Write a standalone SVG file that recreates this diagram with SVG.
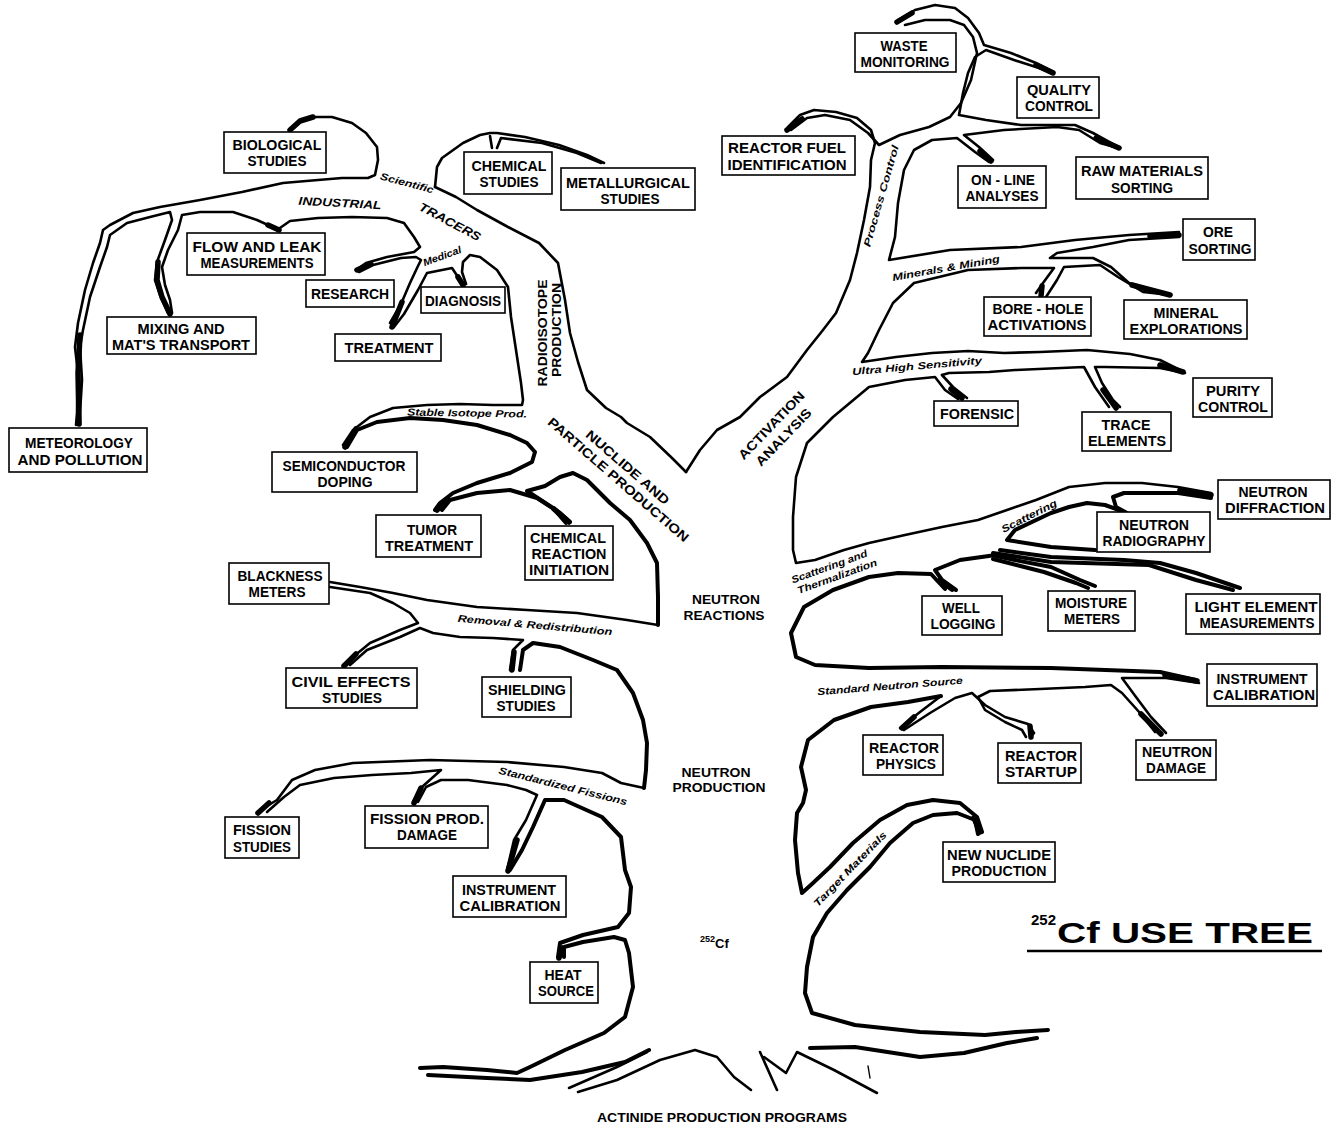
<svg xmlns="http://www.w3.org/2000/svg" width="1338" height="1125" viewBox="0 0 1338 1125">
<style>
.c{fill:none;stroke:#000;stroke-width:2.6;stroke-linejoin:round;stroke-linecap:round}
.k{fill:none;stroke:#000;stroke-width:4;stroke-linejoin:round;stroke-linecap:round}
.t{fill:none;stroke:#000;stroke-width:5.5;stroke-linejoin:round;stroke-linecap:round}
.n rect{fill:#fff;stroke:#000;stroke-width:1.6}
.n text{font-family:"Liberation Sans",Arial,sans-serif;font-weight:bold;font-size:14.5px;text-anchor:middle;fill:#000}
.b{font-family:"Liberation Sans",Arial,sans-serif;font-weight:bold;font-style:italic;font-size:10px;text-anchor:middle;fill:#000}
.cap{font-family:"Liberation Sans",Arial,sans-serif;font-weight:bold;font-size:13px;text-anchor:middle;fill:#000}
</style>
<rect width="1338" height="1125" fill="#fff"/>
<g id="connectors">
<path class="c" d="M76,425 L77,413 L78,373 L75,347 L78,323 L85,290 L93,263 L100,243 L103,230 L110,225 L133,213 L160,207 L200,200 L242,192 L283,183 L318,180 L342,178 L368,178 L375,175 L378,160 L377,147 L366,133 L352,123 L332,117 L311,117 L297,123 L290,129"/>
<path class="c" d="M80,425 L80,413 L82,380 L80,347 L83,330 L90,297 L100,267 L107,247 L110,235 L127,223 L150,217 L170,212 L172,220 L165,240 L157,262 L155,280 L160,295 L168,313"/>
<path class="c" d="M172,313 L170,300 L165,285 L162,267 L168,250 L178,230 L182,215 L200,212 L233,212 L257,220 L279,230"/>
<path class="c" d="M277,230 L290,221 L318,218 L352,217 L387,218 L404,223 L414,237 L420,247 L414,252 L387,257 L366,263 L356,270"/>
<path class="c" d="M359,272 L373,265 L401,258 L416,257 L421,260 L418,266 L410,283 L401,304 L390,323"/>
<path class="c" d="M394,327 L404,314 L418,290 L427,273 L442,270 L452,268 L456,274 L461,283"/>
<path class="c" d="M466,284 L462,272 L463,262 L470,255 L480,257 L497,270 L508,287 L511,317 L516,350 L521,383 L523,400 L522,405 L493,405 L460,404 L427,405 L393,408 L370,417 L353,430 L343,445"/>
<path class="c" d="M435,187 L437,167 L442,158 L463,143 L480,135 L490,133 L497,133 L525,137 L559,145 L587,155 L604,163"/>
<path class="c" d="M601,163 L577,153 L542,143 L501,138 L497,148"/>
<path class="c" d="M490,136 L492,148"/>
<path class="c" d="M435,187 L456,197 L477,210 L508,227 L539,243 L558,263 L565,300 L570,333 L578,362 L587,390 L606,408 L621,417 L627,423 L650,437 L672,458 L686,472"/>
<path class="k" d="M347,447 L357,430 L377,422 L410,418 L443,420 L477,425 L510,435 L527,443 L535,452 L532,462 L510,473 L477,483 L453,493 L440,503 L435,510"/>
<path class="k" d="M442,510 L450,500 L477,493 L510,490 L537,498 L560,513 L570,522"/>
<path class="k" d="M566,523 L553,508 L527,491 L545,486 L560,477 L573,473 L587,480 L610,503 L630,520 L647,543 L657,563 L658,597 L658,625"/>
<path class="c" d="M658,625 L627,620 L577,613 L527,610 L477,607 L427,600 L393,593 L360,587 L330,582"/>
<path class="c" d="M330,587 L370,593 L393,603 L410,613 L418,623 L400,630 L370,643 L353,657 L343,665"/>
<path class="c" d="M350,665 L367,650 L400,637 L420,628 L433,633 L460,637 L493,638 L523,640 L513,650 L510,670"/>
<path class="k" d="M520,670 L523,650 L533,643 L560,647 L593,660 L617,670 L633,693 L643,720 L647,743 L646,770 L644,788"/>
<path class="c" d="M644,788 L621,783 L602,773 L564,767 L507,762 L430,760 L353,763 L315,770 L292,780 L277,800 L257,812"/>
<path class="c" d="M267,812 L284,797 L300,785 L334,778 L372,775 L411,773 L441,770 L422,787 L413,802"/>
<path class="c" d="M418,802 L426,787 L441,780 L468,780 L507,785 L526,790 L537,795 L526,820 L514,840 L507,870"/>
<path class="k" d="M510,870 L522,850 L533,827 L545,800 L564,800 L602,817 L621,837 L625,870 L631,887 L629,913 L618,927 L583,935 L560,943 L558,957"/>
<path class="k" d="M564,957 L564,947 L583,942 L614,937 L625,940 L629,953 L633,987 L625,1017 L604,1033 L565,1050 L530,1067 L517,1073 L487,1070 L443,1067 L420,1068"/>
<path class="k" d="M428,1075 L487,1078 L530,1080 L582,1072 L625,1062 L649,1050"/>
<path class="c" d="M647,1052 L617,1067 L569,1088"/>
<path class="c" d="M578,1092 L617,1080 L660,1060 L695,1050 L717,1057 L734,1077 L751,1090"/>
<path class="c" d="M760,1052 L777,1090"/>
<path class="c" d="M764,1057 L786,1073 L797,1052 L834,1070 L877,1093"/>
<path class="k" d="M810,1048 L855,1047 L920,1057 L964,1053 L1007,1043 L1037,1038"/>
<path class="c" d="M868,1066 L870,1078" style="stroke-width:1.4"/>
<path class="k" d="M978,834 L975,820 L957,813 L933,815 L913,823 L890,843 L870,867 L847,890 L827,913 L813,937 L807,967 L805,993 L812,1013 L855,1025 L920,1032 L985,1035 L1016,1032 L1048,1030"/>
<path class="k" d="M941,696 L908,702 L871,707 L834,720 L808,740 L801,767 L806,790 L803,803 L797,813 L795,840 L798,873 L802,893 L813,883 L830,867 L853,843 L880,820 L907,805 L933,800 L960,803 L977,817 L982,832"/>
<path class="c" d="M941,696 L920,712 L900,728"/>
<path class="c" d="M904,730 L930,713 L955,698 L972,693 L985,705 L1005,717 L1028,724 L1034,733 L1030,738"/>
<path class="c" d="M1026,737 L1022,730 L1005,722 L985,710 L978,697 L990,691 L1040,689 L1085,687 L1111,685 L1122,693 L1140,713 L1155,732"/>
<path class="c" d="M1166,733 L1151,717 L1136,697 L1122,678 L1166,678 L1199,683"/>
<path class="k" d="M945,589 L931,574 L898,573 L869,577 L833,590 L804,607 L791,633 L796,657 L815,665 L869,668 L942,667 L1051,668 L1160,672 L1196,680"/>
<path class="k" d="M996,555 L960,560 L935,570 L942,580 L956,590"/>
<path class="k" d="M996,556 L1015,560 L1051,567 L1080,580 L1095,586"/>
<path class="k" d="M993,559 L1044,572 L1076,583 L1088,588"/>
<path class="k" d="M1000,550 L1051,557 L1124,560 L1160,563 L1196,573 L1240,588"/>
<path class="k" d="M993,553 L1051,562 L1149,565 L1196,580 L1233,590"/>
<path class="k" d="M1211,498 L1178,493 L1124,493 L1113,497 L1116,507 L1127,513 L1105,505 L1087,503 L1069,507 L1051,513 L1015,530 L1007,540 L1051,547 L1095,550"/>
<path class="c" d="M958,399 L945,390 L935,377 L905,380 L869,387 L833,417 L807,443 L796,477 L793,517 L793,550 L796,563 L815,560 L844,550 L869,543 L905,535 L942,527 L978,520 L1007,510 L1036,500 L1069,487 L1105,483 L1142,483 L1178,487 L1211,493"/>
<path class="c" d="M942,375 L953,387 L967,398"/>
<path class="c" d="M942,375 L949,373 L989,372 L1015,370 L1084,367 L1095,387 L1109,407"/>
<path class="c" d="M1120,407 L1113,400 L1102,383 L1095,367 L1105,367 L1160,368 L1185,373"/>
<path class="c" d="M1182,371 L1160,360 L1130,354 L1087,350 L1040,352 L1004,353 L968,351 L932,353 L896,357 L862,362 L868,353 L879,330 L893,303 L914,283 L968,270 L1021,268 L1054,268 L1043,283 L1036,293"/>
<path class="c" d="M1046,297 L1057,280 L1064,267 L1100,265 L1118,277 L1143,292 L1171,295"/>
<path class="c" d="M1179,237 L1129,240 L1093,247 L1057,253 L1050,258 L1093,258 L1111,267 L1129,283 L1171,295"/>
<path class="c" d="M1179,232 L1129,235 L1075,240 L1021,247 L950,250 L889,260 L895,237 L898,203 L904,170 L914,150 L932,140 L957,138 L975,152 L989,162"/>
<path class="c" d="M993,160 L979,147 L964,135 L1004,130 L1057,127 L1079,130 L1100,143 L1118,148"/>
<path class="c" d="M1120,148 L1093,133 L1075,125 L1021,125 L986,120 L959,115 L963,93 L968,73 L975,57 L986,50 L1014,60 L1039,68 L1052,73"/>
<path class="c" d="M686,472 L700,450 L717,430 L740,417 L760,397 L787,377 L807,350 L823,330 L836,313 L850,280 L857,253 L864,220 L870,187 L871,160 L875,143 L871,130 L857,118 L836,112 L814,110 L800,115 L788,127"/>
<path class="c" d="M791,130 L807,118 L825,115 L850,120 L868,133 L879,145 L900,135 L929,127 L950,117 L961,103 L971,80 L977,53 L973,37 L964,25 L950,20 L925,20 L905,25"/>
<path class="c" d="M898,20 L915,10 L935,5 L955,8 L968,18 L979,33 L984,45 L1011,53 L1036,63 L1054,72"/>
<path class="t" d="M290,130 L300,121 L313,117"/>
<path class="t" d="M158,262 L157,280 L162,297 L170,314"/>
<path class="t" d="M80,335 L78,373 L79,424"/>
<path class="t" d="M268,225 L279,230"/>
<path class="t" d="M357,270 L371,264"/>
<path class="t" d="M402,302 L392,327"/>
<path class="t" d="M458,277 L463,285"/>
<path class="t" d="M345,447 L356,429"/>
<path class="t" d="M437,510 L447,500"/>
<path class="t" d="M554,509 L569,522"/>
<path class="t" d="M344,666 L356,654"/>
<path class="t" d="M512,670 L514,652"/>
<path class="t" d="M258,813 L269,803"/>
<path class="t" d="M414,803 L421,788"/>
<path class="t" d="M508,871 L517,840"/>
<path class="t" d="M559,958 L562,948"/>
<path class="t" d="M787,130 L802,119"/>
<path class="t" d="M897,22 L912,13"/>
<path class="t" d="M1036,65 L1053,73"/>
<path class="t" d="M1096,138 L1119,148"/>
<path class="t" d="M980,151 L991,161"/>
<path class="t" d="M1150,236 L1179,235"/>
<path class="t" d="M1132,285 L1170,295"/>
<path class="t" d="M1042,286 L1041,296"/>
<path class="t" d="M1160,365 L1183,372"/>
<path class="t" d="M1103,390 L1116,408"/>
<path class="t" d="M951,389 L962,398"/>
<path class="t" d="M1180,490 L1211,495"/>
<path class="t" d="M940,580 L952,589"/>
<path class="t" d="M1165,675 L1197,681"/>
<path class="t" d="M914,717 L902,728"/>
<path class="t" d="M1030,726 L1031,737"/>
<path class="t" d="M1141,714 L1161,734"/>
<path class="t" d="M974,818 L980,832"/>
</g>
<g id="branch-labels">
<text class="b" transform="translate(407,183) rotate(15)" y="3.5" textLength="55" lengthAdjust="spacingAndGlyphs">Scientific</text>
<text class="b" transform="translate(340,203) rotate(3)" y="4" textLength="83" lengthAdjust="spacingAndGlyphs" style="font-size:11.5px">INDUSTRIAL</text>
<text class="b" transform="translate(450,222) rotate(28)" y="4" textLength="68" lengthAdjust="spacingAndGlyphs" style="font-size:12px">TRACERS</text>
<text class="b" transform="translate(442,256) rotate(-20)" y="3.5" textLength="40" lengthAdjust="spacingAndGlyphs">Medical</text>
<text class="cap" transform="translate(547,333) rotate(-90)" textLength="107" lengthAdjust="spacingAndGlyphs">RADIOISOTOPE</text>
<text class="cap" transform="translate(561,330) rotate(-90)" textLength="94" lengthAdjust="spacingAndGlyphs">PRODUCTION</text>
<text class="b" transform="translate(467,413) rotate(1)" y="3.5" textLength="120" lengthAdjust="spacingAndGlyphs">Stable Isotope Prod.</text>
<g transform="translate(628,467) rotate(41)">
<text class="cap" x="0" y="5" textLength="106" lengthAdjust="spacingAndGlyphs">NUCLIDE AND</text>
<text class="cap" x="1" y="20.5" textLength="182" lengthAdjust="spacingAndGlyphs">PARTICLE PRODUCTION</text>
</g>
<g transform="translate(771,425) rotate(-46)">
<text class="cap" x="0" y="5" textLength="89" lengthAdjust="spacingAndGlyphs">ACTIVATION</text>
<text class="cap" x="0" y="22" textLength="74" lengthAdjust="spacingAndGlyphs">ANALYSIS</text>
</g>
<text class="b" transform="translate(881,196) rotate(-74)" y="3.5" textLength="105" lengthAdjust="spacingAndGlyphs">Process Control</text>
<text class="b" transform="translate(946,268) rotate(-10)" y="3.5" textLength="109" lengthAdjust="spacingAndGlyphs">Minerals &amp; Mining</text>
<text class="b" transform="translate(917,366) rotate(-5)" y="3.5" textLength="130" lengthAdjust="spacingAndGlyphs">Ultra High Sensitivity</text>
<text class="b" transform="translate(1029,516) rotate(-27)" y="3.5" textLength="61" lengthAdjust="spacingAndGlyphs">Scattering</text>
<g transform="translate(833,571) rotate(-20)">
<text class="b" x="-2" y="-2" textLength="80" lengthAdjust="spacingAndGlyphs">Scattering and</text>
<text class="b" x="2" y="10" textLength="84" lengthAdjust="spacingAndGlyphs">Thermalization</text>
</g>
<text class="b" transform="translate(535,625) rotate(5)" y="3.5" textLength="155" lengthAdjust="spacingAndGlyphs">Removal &amp; Redistribution</text>
<text class="b" transform="translate(890,686) rotate(-4.5)" y="3.5" textLength="146" lengthAdjust="spacingAndGlyphs">Standard Neutron Source</text>
<text class="b" transform="translate(563,786) rotate(14)" y="3.5" textLength="132" lengthAdjust="spacingAndGlyphs">Standardized Fissions</text>
<text class="b" transform="translate(850,869) rotate(-46)" y="3.5" textLength="100" lengthAdjust="spacingAndGlyphs">Target Materials</text>
<text class="cap" x="726" y="604" textLength="68" lengthAdjust="spacingAndGlyphs">NEUTRON</text>
<text class="cap" x="724" y="620" textLength="81" lengthAdjust="spacingAndGlyphs">REACTIONS</text>
<text class="cap" x="716" y="777" textLength="69" lengthAdjust="spacingAndGlyphs">NEUTRON</text>
<text class="cap" x="719" y="792" textLength="93" lengthAdjust="spacingAndGlyphs">PRODUCTION</text>
<text class="cap" x="700" y="948" style="text-anchor:start"><tspan style="font-size:9px" dy="-6">252</tspan><tspan style="font-size:13px" dy="6">Cf</tspan></text>
<text class="cap" x="722" y="1122" textLength="250" lengthAdjust="spacingAndGlyphs">ACTINIDE PRODUCTION PROGRAMS</text>
</g>
<g id="title">
<text x="1031" y="925" style="font-family:'Liberation Sans',Arial,sans-serif;font-weight:bold;font-size:15px">252</text>
<text x="1057" y="943" textLength="256" lengthAdjust="spacingAndGlyphs" style="font-family:'Liberation Sans',Arial,sans-serif;font-weight:bold;font-size:29px">Cf USE TREE</text>
<line x1="1027" y1="951" x2="1322" y2="951" stroke="#000" stroke-width="2.6"/>
</g>
<g id="n-waste" class="n"><rect x="855" y="33" width="101" height="39"/><text x="904" y="51" textLength="47" lengthAdjust="spacingAndGlyphs">WASTE</text><text x="905" y="67" textLength="89" lengthAdjust="spacingAndGlyphs">MONITORING</text></g>
<g id="n-quality" class="n"><rect x="1017" y="77" width="82" height="41"/><text x="1059" y="95" textLength="64" lengthAdjust="spacingAndGlyphs">QUALITY</text><text x="1059" y="111" textLength="68" lengthAdjust="spacingAndGlyphs">CONTROL</text></g>
<g id="n-reactorfuel" class="n"><rect x="722" y="136" width="133" height="39"/><text x="787" y="153" textLength="118" lengthAdjust="spacingAndGlyphs">REACTOR FUEL</text><text x="787" y="170" textLength="119" lengthAdjust="spacingAndGlyphs">IDENTIFICATION</text></g>
<g id="n-online" class="n"><rect x="958" y="166" width="88" height="42"/><text x="1003" y="185" textLength="64" lengthAdjust="spacingAndGlyphs">ON - LINE</text><text x="1002" y="201" textLength="73" lengthAdjust="spacingAndGlyphs">ANALYSES</text></g>
<g id="n-raw" class="n"><rect x="1076" y="157" width="132" height="42"/><text x="1142" y="176" textLength="122" lengthAdjust="spacingAndGlyphs">RAW MATERIALS</text><text x="1142" y="193" textLength="62" lengthAdjust="spacingAndGlyphs">SORTING</text></g>
<g id="n-ore" class="n"><rect x="1183" y="219" width="72" height="41"/><text x="1218" y="237" textLength="30" lengthAdjust="spacingAndGlyphs">ORE</text><text x="1220" y="254" textLength="63" lengthAdjust="spacingAndGlyphs">SORTING</text></g>
<g id="n-borehole" class="n"><rect x="984" y="297" width="107" height="39"/><text x="1038" y="314" textLength="91" lengthAdjust="spacingAndGlyphs">BORE - HOLE</text><text x="1037" y="330" textLength="99" lengthAdjust="spacingAndGlyphs">ACTIVATIONS</text></g>
<g id="n-mineral" class="n"><rect x="1124" y="300" width="123" height="39"/><text x="1186" y="318" textLength="65" lengthAdjust="spacingAndGlyphs">MINERAL</text><text x="1186" y="334" textLength="113" lengthAdjust="spacingAndGlyphs">EXPLORATIONS</text></g>
<g id="n-purity" class="n"><rect x="1193" y="378" width="79" height="39"/><text x="1233" y="396" textLength="54" lengthAdjust="spacingAndGlyphs">PURITY</text><text x="1233" y="412" textLength="70" lengthAdjust="spacingAndGlyphs">CONTROL</text></g>
<g id="n-forensic" class="n"><rect x="934" y="401" width="84" height="25"/><text x="977" y="419" textLength="74" lengthAdjust="spacingAndGlyphs">FORENSIC</text></g>
<g id="n-trace" class="n"><rect x="1082" y="412" width="89" height="39"/><text x="1126" y="430" textLength="49" lengthAdjust="spacingAndGlyphs">TRACE</text><text x="1127" y="446" textLength="78" lengthAdjust="spacingAndGlyphs">ELEMENTS</text></g>
<g id="n-diffraction" class="n"><rect x="1218" y="480" width="112" height="39"/><text x="1273" y="497" textLength="69" lengthAdjust="spacingAndGlyphs">NEUTRON</text><text x="1275" y="513" textLength="100" lengthAdjust="spacingAndGlyphs">DIFFRACTION</text></g>
<g id="n-radiography" class="n"><rect x="1097" y="512" width="113" height="40"/><text x="1154" y="530" textLength="70" lengthAdjust="spacingAndGlyphs">NEUTRON</text><text x="1154" y="546" textLength="103" lengthAdjust="spacingAndGlyphs">RADIOGRAPHY</text></g>
<g id="n-welllogging" class="n"><rect x="922" y="596" width="80" height="39"/><text x="961" y="613" textLength="38" lengthAdjust="spacingAndGlyphs">WELL</text><text x="963" y="629" textLength="65" lengthAdjust="spacingAndGlyphs">LOGGING</text></g>
<g id="n-moisture" class="n"><rect x="1048" y="591" width="87" height="40"/><text x="1091" y="608" textLength="72" lengthAdjust="spacingAndGlyphs">MOISTURE</text><text x="1092" y="624" textLength="56" lengthAdjust="spacingAndGlyphs">METERS</text></g>
<g id="n-lightelement" class="n"><rect x="1186" y="594" width="134" height="40"/><text x="1256" y="612" textLength="123" lengthAdjust="spacingAndGlyphs">LIGHT ELEMENT</text><text x="1257" y="628" textLength="115" lengthAdjust="spacingAndGlyphs">MEASUREMENTS</text></g>
<g id="n-instrcal-right" class="n"><rect x="1207" y="664" width="110" height="42"/><text x="1262" y="684" textLength="91" lengthAdjust="spacingAndGlyphs">INSTRUMENT</text><text x="1264" y="700" textLength="102" lengthAdjust="spacingAndGlyphs">CALIBRATION</text></g>
<g id="n-physics" class="n"><rect x="863" y="735" width="80" height="40"/><text x="904" y="753" textLength="70" lengthAdjust="spacingAndGlyphs">REACTOR</text><text x="906" y="769" textLength="60" lengthAdjust="spacingAndGlyphs">PHYSICS</text></g>
<g id="n-startup" class="n"><rect x="998" y="743" width="83" height="40"/><text x="1041" y="761" textLength="72" lengthAdjust="spacingAndGlyphs">REACTOR</text><text x="1041" y="777" textLength="72" lengthAdjust="spacingAndGlyphs">STARTUP</text></g>
<g id="n-damage" class="n"><rect x="1136" y="740" width="80" height="40"/><text x="1177" y="757" textLength="70" lengthAdjust="spacingAndGlyphs">NEUTRON</text><text x="1176" y="773" textLength="60" lengthAdjust="spacingAndGlyphs">DAMAGE</text></g>
<g id="n-newnuclide" class="n"><rect x="943" y="842" width="112" height="40"/><text x="999" y="860" textLength="104" lengthAdjust="spacingAndGlyphs">NEW NUCLIDE</text><text x="999" y="876" textLength="95" lengthAdjust="spacingAndGlyphs">PRODUCTION</text></g>
<g id="n-fission" class="n"><rect x="225" y="817" width="74" height="41"/><text x="262" y="835" textLength="58" lengthAdjust="spacingAndGlyphs">FISSION</text><text x="262" y="852" textLength="58" lengthAdjust="spacingAndGlyphs">STUDIES</text></g>
<g id="n-fissionprod" class="n"><rect x="365" y="806" width="123" height="42"/><text x="427" y="824" textLength="114" lengthAdjust="spacingAndGlyphs">FISSION PROD.</text><text x="427" y="840" textLength="60" lengthAdjust="spacingAndGlyphs">DAMAGE</text></g>
<g id="n-instrcal-left" class="n"><rect x="453" y="876" width="113" height="41"/><text x="509" y="895" textLength="94" lengthAdjust="spacingAndGlyphs">INSTRUMENT</text><text x="510" y="911" textLength="101" lengthAdjust="spacingAndGlyphs">CALIBRATION</text></g>
<g id="n-heat" class="n"><rect x="530" y="962" width="68" height="41"/><text x="563" y="980" textLength="37" lengthAdjust="spacingAndGlyphs">HEAT</text><text x="566" y="996" textLength="56" lengthAdjust="spacingAndGlyphs">SOURCE</text></g>
<g id="n-semiconductor" class="n"><rect x="272" y="452" width="145" height="40"/><text x="344" y="471" textLength="123" lengthAdjust="spacingAndGlyphs">SEMICONDUCTOR</text><text x="345" y="487" textLength="55" lengthAdjust="spacingAndGlyphs">DOPING</text></g>
<g id="n-tumor" class="n"><rect x="376" y="515" width="105" height="42"/><text x="432" y="535" textLength="50" lengthAdjust="spacingAndGlyphs">TUMOR</text><text x="429" y="551" textLength="88" lengthAdjust="spacingAndGlyphs">TREATMENT</text></g>
<g id="n-chemreaction" class="n"><rect x="525" y="526" width="88" height="54"/><text x="568" y="543" textLength="76" lengthAdjust="spacingAndGlyphs">CHEMICAL</text><text x="569" y="559" textLength="75" lengthAdjust="spacingAndGlyphs">REACTION</text><text x="569" y="575" textLength="80" lengthAdjust="spacingAndGlyphs">INITIATION</text></g>
<g id="n-blackness" class="n"><rect x="229" y="563" width="100" height="41"/><text x="280" y="581" textLength="85" lengthAdjust="spacingAndGlyphs">BLACKNESS</text><text x="277" y="597" textLength="57" lengthAdjust="spacingAndGlyphs">METERS</text></g>
<g id="n-civil" class="n"><rect x="286" y="668" width="131" height="40"/><text x="351" y="687" textLength="119" lengthAdjust="spacingAndGlyphs">CIVIL EFFECTS</text><text x="352" y="703" textLength="60" lengthAdjust="spacingAndGlyphs">STUDIES</text></g>
<g id="n-shielding" class="n"><rect x="482" y="677" width="89" height="40"/><text x="527" y="695" textLength="78" lengthAdjust="spacingAndGlyphs">SHIELDING</text><text x="526" y="711" textLength="59" lengthAdjust="spacingAndGlyphs">STUDIES</text></g>
<g id="n-biological" class="n"><rect x="224" y="132" width="102" height="41"/><text x="277" y="150" textLength="89" lengthAdjust="spacingAndGlyphs">BIOLOGICAL</text><text x="277" y="166" textLength="59" lengthAdjust="spacingAndGlyphs">STUDIES</text></g>
<g id="n-chemical" class="n"><rect x="464" y="152" width="88" height="42"/><text x="509" y="171" textLength="75" lengthAdjust="spacingAndGlyphs">CHEMICAL</text><text x="509" y="187" textLength="59" lengthAdjust="spacingAndGlyphs">STUDIES</text></g>
<g id="n-metallurgical" class="n"><rect x="561" y="168" width="134" height="42"/><text x="628" y="188" textLength="124" lengthAdjust="spacingAndGlyphs">METALLURGICAL</text><text x="630" y="204" textLength="59" lengthAdjust="spacingAndGlyphs">STUDIES</text></g>
<g id="n-flow" class="n"><rect x="187" y="233" width="138" height="42"/><text x="257" y="252" textLength="129" lengthAdjust="spacingAndGlyphs">FLOW AND LEAK</text><text x="257" y="268" textLength="113" lengthAdjust="spacingAndGlyphs">MEASUREMENTS</text></g>
<g id="n-research" class="n"><rect x="306" y="280" width="88" height="27"/><text x="350" y="299" textLength="78" lengthAdjust="spacingAndGlyphs">RESEARCH</text></g>
<g id="n-diagnosis" class="n"><rect x="421" y="287" width="84" height="26"/><text x="463" y="306" textLength="76" lengthAdjust="spacingAndGlyphs">DIAGNOSIS</text></g>
<g id="n-treatment" class="n"><rect x="335" y="334" width="106" height="27"/><text x="389" y="353" textLength="89" lengthAdjust="spacingAndGlyphs">TREATMENT</text></g>
<g id="n-mixing" class="n"><rect x="107" y="317" width="149" height="37"/><text x="181" y="334" textLength="87" lengthAdjust="spacingAndGlyphs">MIXING AND</text><text x="181" y="350" textLength="138" lengthAdjust="spacingAndGlyphs">MAT'S TRANSPORT</text></g>
<g id="n-meteorology" class="n"><rect x="9" y="428" width="138" height="44"/><text x="79" y="448" textLength="108" lengthAdjust="spacingAndGlyphs">METEOROLOGY</text><text x="80" y="465" textLength="125" lengthAdjust="spacingAndGlyphs">AND POLLUTION</text></g>
</svg>
